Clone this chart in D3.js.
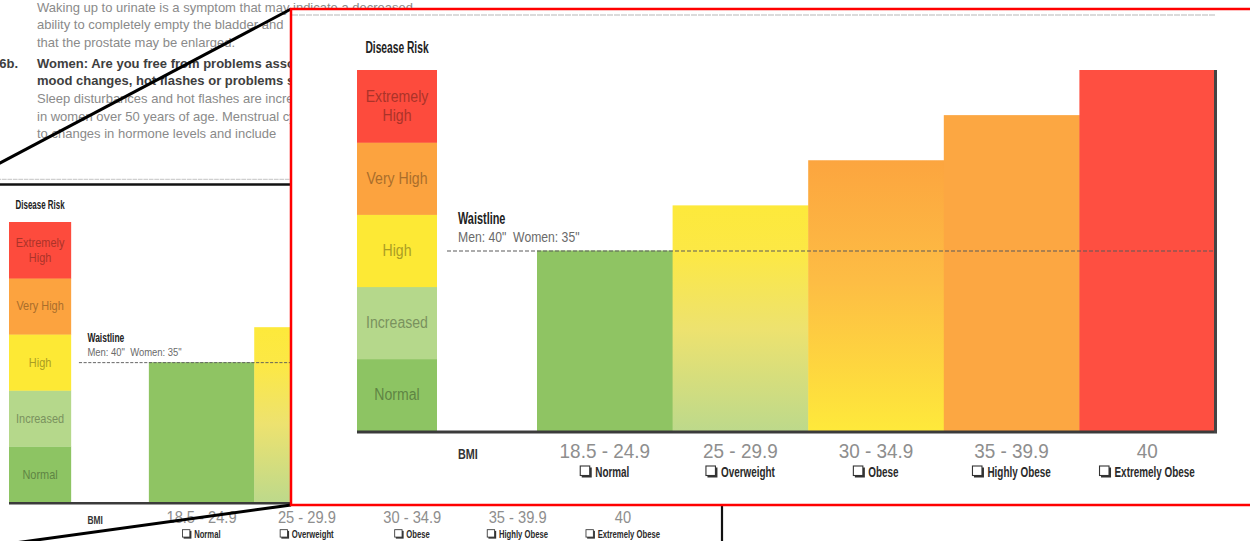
<!DOCTYPE html>
<html><head><meta charset="utf-8">
<script src="https://cdn.jsdelivr.net/npm/d3@7"></script>
<style>html,body{margin:0;padding:0;background:#fff;overflow:hidden}</style>
</head><body>
<svg id="fig" width="1250" height="541"></svg>
<script>
// Disease-risk scale, bottom to top
const riskLevels = ["Normal", "Increased", "High", "Very High", "Extremely High"];
const riskBandColors = ["#8dc463", "#b5d88b", "#fde935", "#fca33f", "#fd4b3d"];

// BMI categories and the risk each one reaches (0–100 risk index)
const bmiRanges = ["18.5 - 24.9", "25 - 29.9", "30 - 34.9", "35 - 39.9", "40"];
const bmiClasses = ["Normal", "Overweight", "Obese", "Highly Obese", "Extremely Obese"];
const riskIndex = [50, 62.5, 75, 87.5, 100];

// Waistline threshold on the same risk index
const waistlineRisk = 50;
const waistlineNote = ["Waistline", "Men: 40\"  Women: 35\""];

// Surrounding page copy
const bodyLines = [
  {t: "Waking up to urinate is a symptom that may indicate a decreased", b: false},
  {t: "ability to completely empty the bladder and", b: false},
  {t: "that the prostate may be enlarged.", b: false},
  {t: "Women: Are you free from problems associated", b: true},
  {t: "mood changes, hot flashes or problems sleeping?", b: true},
  {t: "Sleep disturbances and hot flashes are increased", b: false},
  {t: "in women over 50 years of age. Menstrual cycles", b: false},
  {t: "to changes in hormone levels and include", b: false}
];
const bodyBaselines = [11.5, 29, 46.5, 67.5, 85, 103, 120.5, 138];

const svg = d3.select("#fig");
const defs = svg.append("defs");

function vGrad(id, stops) {
  const lg = defs.append("linearGradient").attr("id", id)
    .attr("x1", 0).attr("y1", 0).attr("x2", 0).attr("y2", 1);
  stops.forEach(([o, c]) => lg.append("stop").attr("offset", o).attr("stop-color", c));
}
vGrad("gOver", [[0, "#fde93b"], [0.22, "#fce846"], [0.55, "#ede26f"], [1, "#bdd98b"]]);
vGrad("gObese", [[0, "#fca53f"], [0.45, "#fdbd44"], [1, "#fee93b"]]);
const barFills = ["#8fc463", "url(#gOver)", "url(#gObese)", "#fca742", "#fe4f41"];

const CONDENSED = "'Liberation Sans Narrow','Arial Narrow','Liberation Sans',Arial,sans-serif";
const PLAIN = "'Liberation Sans',Arial,Helvetica,sans-serif";

function squeeze(sel, k) {
  sel.each(function () {
    const w = this.getComputedTextLength();
    d3.select(this).attr("textLength", w * k).attr("lengthAdjust", "spacingAndGlyphs");
  });
  return sel;
}

function drawChart(g) {
  const y = d3.scaleLinear().domain([0, 100]).range([431, 70]);
  const x = d3.scaleBand().domain(bmiClasses).range([537, 1215]);
  const band = d3.scaleBand().domain(riskLevels).range([431, 70]);
  const colX = 357, colW = 80;

  // page rule above the figure
  g.append("line").attr("x1", 292).attr("x2", 1215).attr("y1", 15).attr("y2", 15)
    .attr("stroke", "#cfcfcf").attr("stroke-width", 1.6).attr("stroke-dasharray", "6,1");

  squeeze(g.append("text").attr("x", colX + colW / 2).attr("y", 53)
    .attr("text-anchor", "middle").attr("font-family", CONDENSED).attr("font-weight", "bold")
    .attr("font-size", 16).attr("fill", "#222").text("Disease Risk"), 0.64);

  // risk scale column
  g.selectAll("rect.band").data(riskLevels).join("rect").attr("class", "band")
    .attr("x", colX).attr("width", colW)
    .attr("y", d => band(d)).attr("height", band.bandwidth() + 0.5)
    .attr("fill", (d, i) => riskBandColors[i]);

  riskLevels.forEach((lvl, i) => {
    const words = lvl === "Extremely High" ? ["Extremely", "High"] : [lvl];
    const cy = band(lvl) + band.bandwidth() / 2;
    const col = d3.color(riskBandColors[i]).darker(1.1).formatHex();
    const t = g.append("text").attr("text-anchor", "middle").attr("font-family", PLAIN)
      .attr("font-size", 16).attr("fill", col);
    words.forEach((w, j) => {
      squeeze(t.append("tspan").attr("x", colX + colW / 2)
        .attr("y", cy + 5.5 + (j - (words.length - 1) / 2) * 19.5).text(w), 0.88);
    });
  });

  // bars
  g.selectAll("rect.bar").data(bmiClasses).join("rect").attr("class", "bar")
    .attr("x", d => x(d)).attr("width", x.bandwidth() + 0.5)
    .attr("y", (d, i) => y(riskIndex[i])).attr("height", (d, i) => y(0) - y(riskIndex[i]))
    .attr("fill", (d, i) => barFills[i]);

  // waistline threshold
  const wy = y(waistlineRisk);
  g.append("line").attr("x1", 447).attr("x2", 1215).attr("y1", wy + 0.5).attr("y2", wy + 0.5)
    .attr("stroke", "#5a5a5a").attr("stroke-width", 1.2).attr("stroke-dasharray", "4,2");
  squeeze(g.append("text").attr("x", 458).attr("y", 224).attr("font-family", CONDENSED)
    .attr("font-weight", "bold").attr("font-size", 16.5).attr("fill", "#222").text(waistlineNote[0]), 0.66);
  squeeze(g.append("text").attr("x", 458).attr("y", 242).attr("font-family", PLAIN)
    .attr("font-size", 14.5).attr("fill", "#6a6a6a").style("white-space", "pre")
    .text(waistlineNote[1]), 0.84);

  // frame: baseline and right edge
  g.append("line").attr("x1", colX).attr("x2", 1217).attr("y1", y(0) + 1).attr("y2", y(0) + 1)
    .attr("stroke", "#3b3b3b").attr("stroke-width", 3);
  g.append("line").attr("x1", 1215.5).attr("x2", 1215.5).attr("y1", y(100)).attr("y2", y(0) + 2)
    .attr("stroke", "#444").attr("stroke-width", 3);

  // category labels
  squeeze(g.append("text").attr("x", 458).attr("y", 459).attr("font-family", CONDENSED)
    .attr("font-weight", "bold").attr("font-size", 15).attr("fill", "#333").text("BMI"), 0.72);

  bmiClasses.forEach((c, i) => {
    const cx = x(c) + x.bandwidth() / 2;
    squeeze(g.append("text").attr("x", cx).attr("y", 458).attr("text-anchor", "middle")
      .attr("font-family", PLAIN).attr("font-size", 21).attr("fill", "#8e8e8e")
      .text(bmiRanges[i]), 0.9);
    const t = g.append("text").attr("y", 477).attr("font-family", CONDENSED)
      .attr("font-weight", "bold").attr("font-size", 15).attr("fill", "#2a2a2a").text(c);
    squeeze(t, 0.66);
    const tw = +t.attr("textLength");
    const left = cx - (tw + 15) / 2;
    t.attr("x", left + 15);
    g.append("rect").attr("x", left + 1.5).attr("y", 467.5).attr("width", 10).attr("height", 10)
      .attr("fill", "#333");
    g.append("rect").attr("x", left).attr("y", 466).attr("width", 9.5).attr("height", 9.5)
      .attr("fill", "#fff").attr("stroke", "#333").attr("stroke-width", 1.1);
  });
}

// page copy behind the figure
const copy = svg.append("g");
bodyLines.forEach((ln, i) => {
  copy.append("text").attr("x", 37).attr("y", bodyBaselines[i])
    .attr("font-family", PLAIN).attr("font-size", 13)
    .attr("font-weight", ln.b ? "bold" : "normal")
    .attr("fill", ln.b ? "#3e3e3e" : "#8a8a8a").text(ln.t);
});
copy.append("text").attr("x", -8).attr("y", bodyBaselines[3]).attr("font-family", PLAIN)
  .attr("font-size", 13).attr("font-weight", "bold").attr("fill", "#3e3e3e").text("16b.");

// the figure at page size
const s = 0.777;
drawChart(svg.append("g").attr("transform", `translate(${9 - 357 * s},${222 - 70 * s}) scale(${s})`));

// outline of the magnified area
svg.append("line").attr("x1", 0).attr("x2", 723).attr("y1", 184.5).attr("y2", 184.5)
  .attr("stroke", "#111").attr("stroke-width", 2.5);
svg.append("line").attr("x1", 722).attr("x2", 722).attr("y1", 184).attr("y2", 541)
  .attr("stroke", "#111").attr("stroke-width", 2.2);

// connector lines to the magnified view
svg.append("line").attr("x1", -5).attr("y1", 165.6).attr("x2", 291).attr("y2", 9)
  .attr("stroke", "#000").attr("stroke-width", 3);
svg.append("line").attr("x1", -10).attr("y1", 546.4).attr("x2", 291).attr("y2", 505)
  .attr("stroke", "#000").attr("stroke-width", 3);

// magnified view
defs.append("clipPath").attr("id", "zoomClip").append("rect")
  .attr("x", 291).attr("y", 9).attr("width", 980).attr("height", 496);
const zoom = svg.append("g").attr("clip-path", "url(#zoomClip)");
zoom.append("rect").attr("x", 291).attr("y", 9).attr("width", 980).attr("height", 496).attr("fill", "#fff");
drawChart(zoom.append("g"));
svg.append("rect").attr("x", 291).attr("y", 9).attr("width", 990).attr("height", 496)
  .attr("fill", "none").attr("stroke", "#ff0000").attr("stroke-width", 2.5);
</script>
</body></html>
